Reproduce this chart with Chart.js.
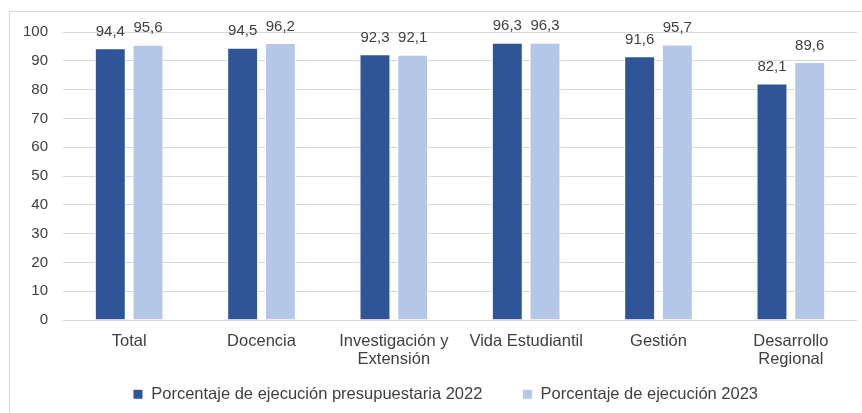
<!DOCTYPE html>
<html>
<head>
<meta charset="utf-8">
<script src="https://cdn.jsdelivr.net/npm/chart.js@4.4.1/dist/chart.umd.min.js"></script>
<style>
  html, body { margin: 0; padding: 0; background: #fff; }
  #frame {
    position: absolute; left: 9px; top: 11px; width: 853px; height: 402px;
    border-left: 1px solid #d9d9d9; border-top: 1px solid #d9d9d9;
    box-sizing: border-box;
  }
  #wrap { position: absolute; left: 0; top: 0; width: 852px; height: 401px; }
</style>
</head>
<body>
<div id="frame"><div id="wrap"><canvas id="chart"></canvas></div></div>
<script>
// categories and values
const categories = ['Total', 'Docencia', ['Investigación y', 'Extensión'], 'Vida Estudiantil', 'Gestión', ['Desarrollo', 'Regional']];
const ejecucion2022 = [94.4, 94.5, 92.3, 96.3, 91.6, 82.1];
const ejecucion2023 = [95.6, 96.2, 92.1, 96.3, 95.7, 89.6];
const yTicks = [0, 10, 20, 30, 40, 50, 60, 70, 80, 90, 100];

const textColor = '#404040';
const fontFamily = '"Liberation Sans", Arial, sans-serif';

// draw the values above the bars, with comma as decimal separator
const valueLabels = {
    id: 'valueLabels',
    afterDatasetsDraw(chart) {
        const ctx = chart.ctx;
        ctx.save();
        ctx.font = '15px ' + fontFamily;
        ctx.fillStyle = textColor;
        ctx.textAlign = 'center';
        ctx.textBaseline = 'bottom';
        chart.data.datasets.forEach((ds, i) => {
            chart.getDatasetMeta(i).data.forEach((bar, j) => {
                const txt = ds.data[j].toFixed(1).replace('.', ',');
                ctx.fillText(txt, bar.x, bar.y - 9);
            });
        });
        ctx.restore();
    }
};

// legend wants a wide gap between items (padding 40) but not that much height
const legendFit = {
    id: 'legendFit',
    afterInit(chart) {
        const lg = chart.legend;
        const fit = lg.fit;
        lg.fit = function () {
            fit.call(this);
            this.height = 42;
        };
    },
    afterLayout(chart) {
        const lg = chart.legend;
        lg.top -= 23;
        lg.left += 12; lg.right += 12;
    }
};

new Chart(document.getElementById('chart'), {
    type: 'bar',
    data: {
        labels: categories,
        datasets: [{
            label: 'Porcentaje de ejecución presupuestaria 2022',
            data: ejecucion2022,
            backgroundColor: '#2F5597',
            borderColor: '#ffffff',
            borderWidth: 1,
            borderSkipped: 'bottom',
            categoryPercentage: 0.57,
            barPercentage: 0.82
        },
        {
            label: 'Porcentaje de ejecución 2023',
            data: ejecucion2023,
            backgroundColor: '#B4C7E7',
            borderColor: '#ffffff',
            borderWidth: 1,
            borderSkipped: 'bottom',
            categoryPercentage: 0.57,
            barPercentage: 0.82
        }]
    },
    options: {
        responsive: true,
        maintainAspectRatio: false,
        animation: false,
        layout: { padding: { left: 0, right: 5, top: 20, bottom: 2 } },
        scales: {
            x: {
                grid: { display: false },
                border: { display: false },
                ticks: {
                    color: textColor,
                    font: { family: fontFamily, size: 16.5, lineHeight: 1.05 },
                    padding: 5,
                    maxRotation: 0,
                    autoSkip: false
                },
                afterFit(scale) { scale.height = 49; }
            },
            y: {
                min: 0,
                max: 100,
                afterBuildTicks(scale) { scale.ticks = yTicks.map(v => ({ value: v })); },
                grid: { color: '#d9d9d9', drawTicks: false },
                border: { display: false },
                ticks: {
                    color: textColor,
                    font: { family: fontFamily, size: 15 },
                    padding: 15
                },
                afterFit(scale) {
                    scale.width = 53;
                    scale.paddingTop = 0;
                    scale.paddingBottom = 0;
                }
            }
        },
        plugins: {
            legend: {
                position: 'bottom',
                labels: {
                    color: textColor,
                    font: { family: fontFamily, size: 16.5 },
                    boxWidth: 10,
                    boxHeight: 10,
                    padding: 40
                }
            },
            tooltip: { enabled: false }
        }
    },
    plugins: [valueLabels, legendFit]
});
</script>
</body>
</html>
